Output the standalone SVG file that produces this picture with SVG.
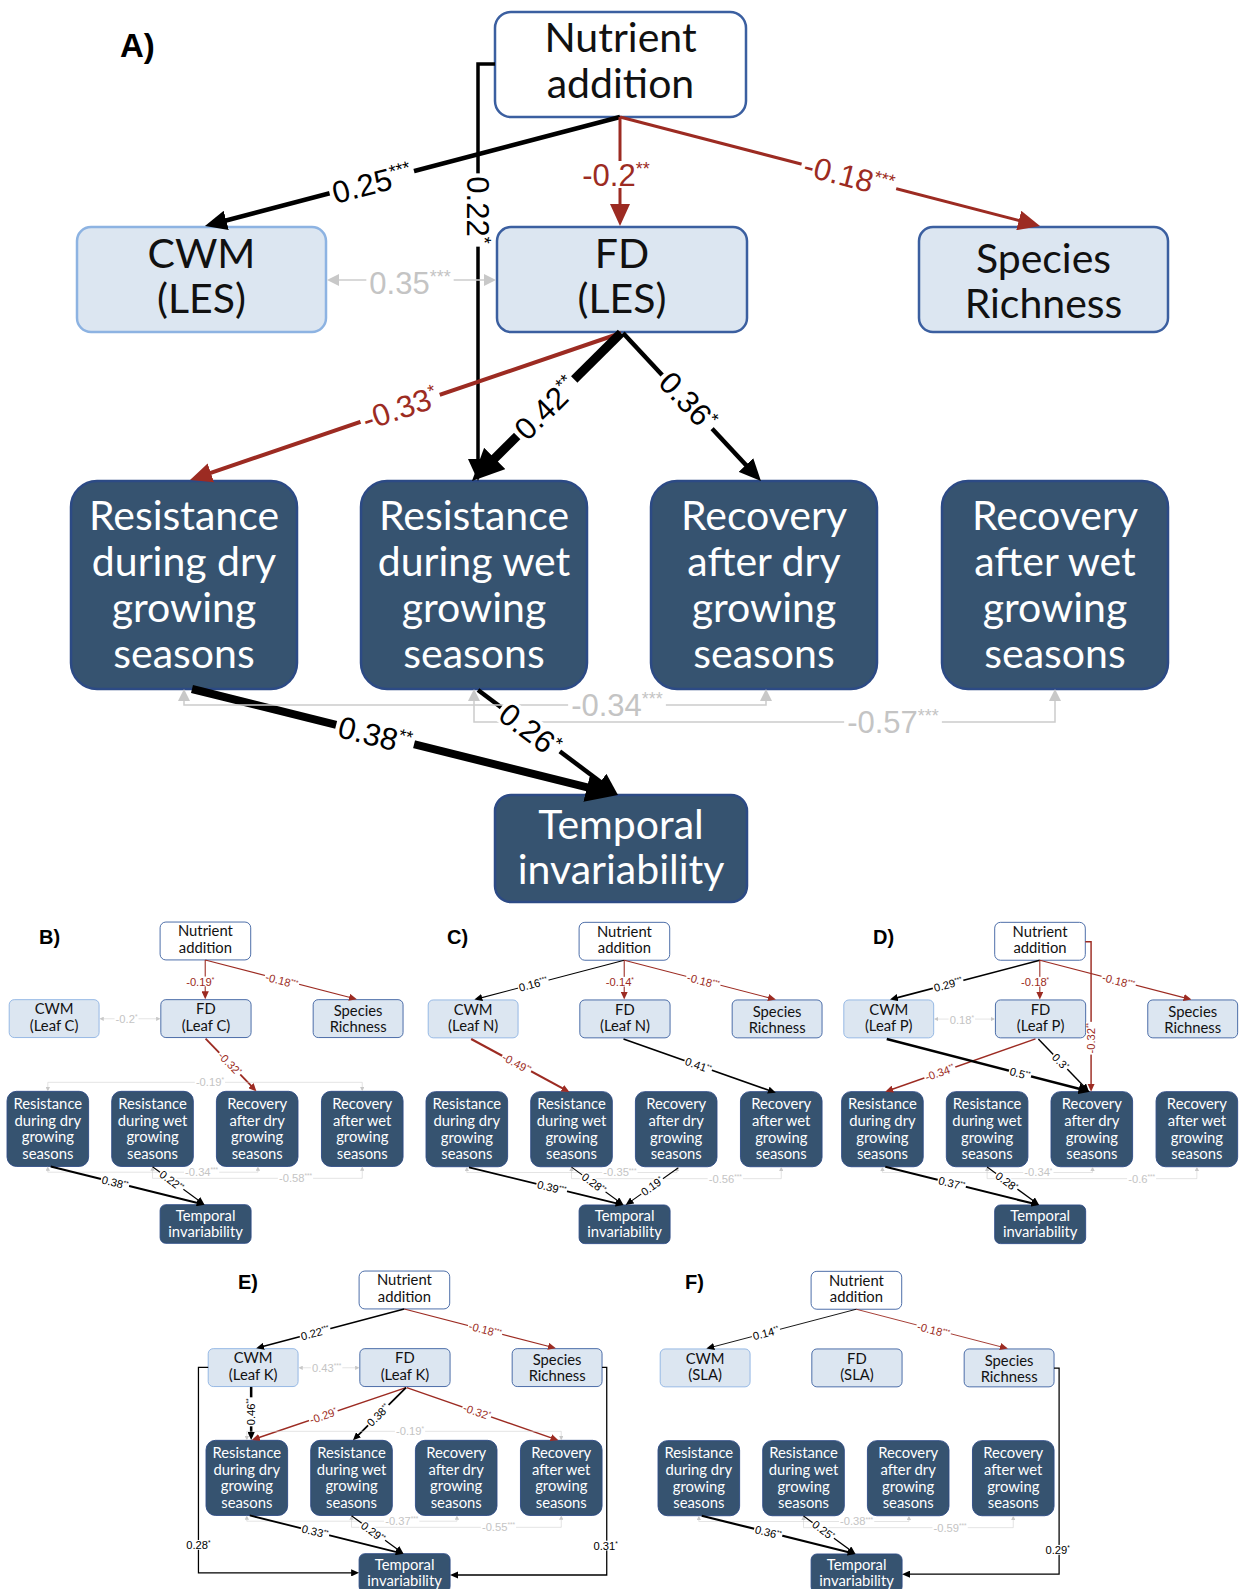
<svg xmlns="http://www.w3.org/2000/svg" width="1239" height="1589" viewBox="0 0 1239 1589">
<style>
.nut{fill:#fff;stroke:#3b5fa0;stroke-width:2.5}
.cwm{fill:#dce6f1;stroke:#8db3e2;stroke-width:2.5}
.fd{fill:#dce6f1;stroke:#3b5fa0;stroke-width:2.5}
.dk{fill:#365370;stroke:#2c4a85;stroke-width:2.5}
.nt{font-family:Lato,"Open Sans",sans-serif;font-size:41px;text-anchor:middle;fill:#111}
.nw{font-family:Lato,"Open Sans",sans-serif;font-size:41px;text-anchor:middle;fill:#fff}
.lbl{font-family:"Liberation Sans",Arial,sans-serif;font-size:31px;text-anchor:middle}
.bg{fill:#fff}
.k{fill:#000}.r{fill:#9c2b22}.g{fill:#c4c4c4}
.st{font-size:18px}
.lk{stroke:#000;fill:none}
.lr{stroke:#9c2b22;fill:none}
.lg{stroke:#cccccc;fill:none;stroke-width:1.5}
.pl{font-family:"Liberation Sans",Arial,sans-serif;font-weight:bold;fill:#000}
</style>
<defs>
<marker id="mK" markerUnits="userSpaceOnUse" markerWidth="22" markerHeight="20" viewBox="0 0 22 20" refX="14" refY="10" orient="auto"><path d="M0,0 L22,10 L0,20 z" fill="#000"/></marker>
<marker id="mKL" markerUnits="userSpaceOnUse" markerWidth="32" markerHeight="30" viewBox="0 0 32 30" refX="20" refY="15" orient="auto"><path d="M0,0 L32,15 L0,30 z" fill="#000"/></marker>
<marker id="mR" markerUnits="userSpaceOnUse" markerWidth="22" markerHeight="20" viewBox="0 0 22 20" refX="14" refY="10" orient="auto"><path d="M0,0 L22,10 L0,20 z" fill="#9c2b22"/></marker>
<marker id="mG" markerUnits="userSpaceOnUse" markerWidth="12" markerHeight="12" viewBox="0 0 12 12" refX="8" refY="6" orient="auto-start-reverse"><path d="M0,0 L12,6 L0,12 z" fill="#c8c8c8"/></marker>
</defs>
<rect width="1239" height="1589" fill="#fff"/>

<text class="pl" x="120" y="57" font-size="33">A)</text>
<text class="pl" x="39" y="944" font-size="20">B)</text>
<text class="pl" x="447" y="944" font-size="20">C)</text>
<text class="pl" x="873" y="944" font-size="20">D)</text>
<text class="pl" x="238" y="1289" font-size="20">E)</text>
<text class="pl" x="685" y="1289" font-size="20">F)</text>

<!-- PANEL A -->
<g id="panelA">
<g id="A-nutrient"><rect class="nut" x="495" y="12" width="251" height="105" rx="16"/><text class="nt"><tspan x="620.5" y="52">Nutrient</tspan><tspan x="620.5" y="98">addition</tspan></text></g>
<g id="A-cwm"><rect class="cwm" x="77" y="227" width="249" height="105" rx="14"/><text class="nt"><tspan x="201.5" y="268">CWM</tspan><tspan x="201.5" y="313">(LES)</tspan></text></g>
<g id="A-fd"><rect class="fd" x="497" y="227" width="250" height="105" rx="14"/><text class="nt"><tspan x="622" y="268">FD</tspan><tspan x="622" y="313">(LES)</tspan></text></g>
<g id="A-species"><rect class="fd" x="919" y="227" width="249" height="105" rx="14"/><text class="nt"><tspan x="1043.5" y="273">Species</tspan><tspan x="1043.5" y="318">Richness</tspan></text></g>
<g id="A-resdry"><rect class="dk" x="71" y="481" width="226" height="208" rx="26"/><text class="nw"><tspan x="184" y="530">Resistance</tspan><tspan x="184" y="576">during dry</tspan><tspan x="184" y="622">growing</tspan><tspan x="184" y="668">seasons</tspan></text></g>
<g id="A-reswet"><rect class="dk" x="361" y="481" width="226" height="208" rx="26"/><text class="nw"><tspan x="474" y="530">Resistance</tspan><tspan x="474" y="576">during wet</tspan><tspan x="474" y="622">growing</tspan><tspan x="474" y="668">seasons</tspan></text></g>
<g id="A-recdry"><rect class="dk" x="651" y="481" width="226" height="208" rx="26"/><text class="nw"><tspan x="764" y="530">Recovery</tspan><tspan x="764" y="576">after dry</tspan><tspan x="764" y="622">growing</tspan><tspan x="764" y="668">seasons</tspan></text></g>
<g id="A-recwet"><rect class="dk" x="942" y="481" width="226" height="208" rx="26"/><text class="nw"><tspan x="1055" y="530">Recovery</tspan><tspan x="1055" y="576">after wet</tspan><tspan x="1055" y="622">growing</tspan><tspan x="1055" y="668">seasons</tspan></text></g>
<g id="A-temporal"><rect class="dk" x="495" y="795" width="252" height="107" rx="16"/><text class="nw"><tspan x="621" y="839">Temporal</tspan><tspan x="621" y="884">invariability</tspan></text></g>
<g id="A-connectors">
<path class="lk" stroke-width="4.5" d="M620,117 L212.7,224" marker-end="url(#mK)"/>
<path class="lr" stroke-width="3" d="M620,117 V218" marker-end="url(#mR)"/>
<path class="lr" stroke-width="3" d="M620,117 L1032.3,224" marker-end="url(#mR)"/>
<path class="lk" stroke-width="3.5" d="M495,64 H478 V473" marker-end="url(#mK)"/>
<path class="lg" d="M331,280 H492" marker-start="url(#mG)" marker-end="url(#mG)"/>
<path class="lr" stroke-width="4" d="M621,333 L197.6,477.4" marker-end="url(#mR)"/>
<path class="lk" stroke-width="9" d="M621,333 L480.5,472.5" marker-end="url(#mKL)"/>
<path class="lk" stroke-width="4.5" d="M623,333 L755.5,475.2" marker-end="url(#mK)"/>
<path class="lk" stroke-width="8" d="M192,689 L606.4,792.1" marker-end="url(#mKL)"/>
<path class="lk" stroke-width="4.5" d="M478,690 L611.6,790.2" marker-end="url(#mK)"/>
<path class="lg" d="M184,693 V705 H766 V693" marker-start="url(#mG)" marker-end="url(#mG)"/>
<path class="lg" d="M474,693 V722 H1055 V693" marker-start="url(#mG)" marker-end="url(#mG)"/>
<g transform="translate(372 183) rotate(-14.7)"><rect class="bg" x="-43.65" y="-14" width="87.3" height="27"/><text class="lbl k" y="11">0.25<tspan class="st" dy="-11">***</tspan></text></g>
<g transform="translate(616 175)"><rect class="bg" x="-36.7" y="-14" width="73.4" height="27"/><text class="lbl r" y="11">-0.2<tspan class="st" dy="-11">**</tspan></text></g>
<g transform="translate(849 176) rotate(14.5)"><rect class="bg" x="-48.85" y="-14" width="97.7" height="27"/><text class="lbl r" y="11">-0.18<tspan class="st" dy="-11">***</tspan></text></g>
<g transform="translate(478 210) rotate(90)"><rect class="bg" x="-36.65" y="-14" width="73.3" height="27"/><text class="lbl k" y="11">0.22<tspan class="st" dy="-11">*</tspan></text></g>
<g transform="translate(410 283)"><rect class="bg" x="-43.65" y="-14" width="87.3" height="27"/><text class="lbl g" y="11">0.35<tspan class="st" dy="-11">***</tspan></text></g>
<g transform="translate(400 408) rotate(-18.8)"><rect class="bg" x="-41.85" y="-14" width="83.7" height="27"/><text class="lbl r" y="11">-0.33<tspan class="st" dy="-11">*</tspan></text></g>
<g transform="translate(546 408) rotate(-44.8)"><rect class="bg" x="-40.15" y="-14" width="80.3" height="27"/><text class="lbl k" y="11">0.42<tspan class="st" dy="-11">**</tspan></text></g>
<g transform="translate(688 401) rotate(47)"><rect class="bg" x="-36.65" y="-14" width="73.3" height="27"/><text class="lbl k" y="11">0.36<tspan class="st" dy="-11">*</tspan></text></g>
<g transform="translate(375 735) rotate(14)"><rect class="bg" x="-40.15" y="-14" width="80.3" height="27"/><text class="lbl k" y="11">0.38<tspan class="st" dy="-11">**</tspan></text></g>
<g transform="translate(530 730) rotate(37)"><rect class="bg" x="-36.65" y="-14" width="73.3" height="27"/><text class="lbl k" y="11">0.26<tspan class="st" dy="-11">*</tspan></text></g>
<g transform="translate(617 705)"><rect class="bg" x="-48.85" y="-14" width="97.7" height="27"/><text class="lbl g" y="11">-0.34<tspan class="st" dy="-11">***</tspan></text></g>
<g transform="translate(893 722)"><rect class="bg" x="-48.85" y="-14" width="97.7" height="27"/><text class="lbl g" y="11">-0.57<tspan class="st" dy="-11">***</tspan></text></g>
</g>
</g>

<!-- PANEL B -->
<g id="panelB" transform="translate(-18.6 917.7) scale(0.361)">
<g id="B-nutrient"><rect class="nut" x="495" y="12" width="251" height="105" rx="16"/><text class="nt"><tspan x="620.5" y="52">Nutrient</tspan><tspan x="620.5" y="98">addition</tspan></text></g>
<g id="B-cwm"><rect class="cwm" x="77" y="227" width="249" height="105" rx="14"/><text class="nt"><tspan x="201.5" y="268">CWM</tspan><tspan x="201.5" y="313">(Leaf C)</tspan></text></g>
<g id="B-fd"><rect class="fd" x="497" y="227" width="250" height="105" rx="14"/><text class="nt"><tspan x="622" y="268">FD</tspan><tspan x="622" y="313">(Leaf C)</tspan></text></g>
<g id="B-species"><rect class="fd" x="919" y="227" width="249" height="105" rx="14"/><text class="nt"><tspan x="1043.5" y="273">Species</tspan><tspan x="1043.5" y="318">Richness</tspan></text></g>
<g id="B-resdry"><rect class="dk" x="71" y="481" width="226" height="208" rx="26"/><text class="nw"><tspan x="184" y="530">Resistance</tspan><tspan x="184" y="576">during dry</tspan><tspan x="184" y="622">growing</tspan><tspan x="184" y="668">seasons</tspan></text></g>
<g id="B-reswet"><rect class="dk" x="361" y="481" width="226" height="208" rx="26"/><text class="nw"><tspan x="474" y="530">Resistance</tspan><tspan x="474" y="576">during wet</tspan><tspan x="474" y="622">growing</tspan><tspan x="474" y="668">seasons</tspan></text></g>
<g id="B-recdry"><rect class="dk" x="651" y="481" width="226" height="208" rx="26"/><text class="nw"><tspan x="764" y="530">Recovery</tspan><tspan x="764" y="576">after dry</tspan><tspan x="764" y="622">growing</tspan><tspan x="764" y="668">seasons</tspan></text></g>
<g id="B-recwet"><rect class="dk" x="942" y="481" width="226" height="208" rx="26"/><text class="nw"><tspan x="1055" y="530">Recovery</tspan><tspan x="1055" y="576">after wet</tspan><tspan x="1055" y="622">growing</tspan><tspan x="1055" y="668">seasons</tspan></text></g>
<g id="B-temporal"><rect class="dk" x="495" y="795" width="252" height="107" rx="16"/><text class="nw"><tspan x="621" y="839">Temporal</tspan><tspan x="621" y="884">invariability</tspan></text></g>
<g id="B-connectors">
<path class="lr" stroke-width="3" d="M620,117 V218" marker-end="url(#mR)"/>
<path class="lr" stroke-width="3" d="M620,117 L1032.3,224" marker-end="url(#mR)"/>
<path class="lg" d="M331,280 H492" marker-start="url(#mG)" marker-end="url(#mG)"/>
<path class="lr" stroke-width="5" d="M621,335 L756.4,475.2" marker-end="url(#mR)"/>
<path class="lg" d="M184,477 V456 H1055 V477" marker-start="url(#mG)" marker-end="url(#mG)"/>
<path class="lg" d="M184,693 V705 H766 V693" marker-start="url(#mG)" marker-end="url(#mG)"/>
<path class="lg" d="M474,693 V722 H1055 V693" marker-start="url(#mG)" marker-end="url(#mG)"/>
<path class="lk" stroke-width="6" d="M192,689 L610.2,793.1" marker-end="url(#mK)"/>
<path class="lk" stroke-width="3" d="M474,690 L611.6,790.2" marker-end="url(#mK)"/>
<g transform="translate(606 177)"><rect class="bg" x="-41.85" y="-14" width="83.7" height="27"/><text class="lbl r" y="11">-0.19<tspan class="st" dy="-11">*</tspan></text></g>
<g transform="translate(832 175) rotate(14.5)"><rect class="bg" x="-48.85" y="-14" width="97.7" height="27"/><text class="lbl r" y="11">-0.18<tspan class="st" dy="-11">***</tspan></text></g>
<g transform="translate(402 280)"><rect class="bg" x="-33.2" y="-14" width="66.4" height="27"/><text class="lbl g" y="11">-0.2<tspan class="st" dy="-11">*</tspan></text></g>
<g transform="translate(688 404) rotate(46)"><rect class="bg" x="-41.85" y="-14" width="83.7" height="27"/><text class="lbl r" y="11">-0.32<tspan class="st" dy="-11">*</tspan></text></g>
<g transform="translate(633 456)"><rect class="bg" x="-41.85" y="-14" width="83.7" height="27"/><text class="lbl g" y="11">-0.19<tspan class="st" dy="-11">*</tspan></text></g>
<g transform="translate(610 705)"><rect class="bg" x="-48.85" y="-14" width="97.7" height="27"/><text class="lbl g" y="11">-0.34<tspan class="st" dy="-11">***</tspan></text></g>
<g transform="translate(870 722)"><rect class="bg" x="-48.85" y="-14" width="97.7" height="27"/><text class="lbl g" y="11">-0.58<tspan class="st" dy="-11">***</tspan></text></g>
<g transform="translate(370 734) rotate(14)"><rect class="bg" x="-40.15" y="-14" width="80.3" height="27"/><text class="lbl k" y="11">0.38<tspan class="st" dy="-11">**</tspan></text></g>
<g transform="translate(527 729) rotate(37)"><rect class="bg" x="-40.15" y="-14" width="80.3" height="27"/><text class="lbl k" y="11">0.22<tspan class="st" dy="-11">**</tspan></text></g>
</g>
</g>

<!-- PANEL C -->
<g id="panelC" transform="translate(400.4 918) scale(0.361)">
<g id="C-nutrient"><rect class="nut" x="495" y="12" width="251" height="105" rx="16"/><text class="nt"><tspan x="620.5" y="52">Nutrient</tspan><tspan x="620.5" y="98">addition</tspan></text></g>
<g id="C-cwm"><rect class="cwm" x="77" y="227" width="249" height="105" rx="14"/><text class="nt"><tspan x="201.5" y="268">CWM</tspan><tspan x="201.5" y="313">(Leaf N)</tspan></text></g>
<g id="C-fd"><rect class="fd" x="497" y="227" width="250" height="105" rx="14"/><text class="nt"><tspan x="622" y="268">FD</tspan><tspan x="622" y="313">(Leaf N)</tspan></text></g>
<g id="C-species"><rect class="fd" x="919" y="227" width="249" height="105" rx="14"/><text class="nt"><tspan x="1043.5" y="273">Species</tspan><tspan x="1043.5" y="318">Richness</tspan></text></g>
<g id="C-resdry"><rect class="dk" x="71" y="481" width="226" height="208" rx="26"/><text class="nw"><tspan x="184" y="530">Resistance</tspan><tspan x="184" y="576">during dry</tspan><tspan x="184" y="622">growing</tspan><tspan x="184" y="668">seasons</tspan></text></g>
<g id="C-reswet"><rect class="dk" x="361" y="481" width="226" height="208" rx="26"/><text class="nw"><tspan x="474" y="530">Resistance</tspan><tspan x="474" y="576">during wet</tspan><tspan x="474" y="622">growing</tspan><tspan x="474" y="668">seasons</tspan></text></g>
<g id="C-recdry"><rect class="dk" x="651" y="481" width="226" height="208" rx="26"/><text class="nw"><tspan x="764" y="530">Recovery</tspan><tspan x="764" y="576">after dry</tspan><tspan x="764" y="622">growing</tspan><tspan x="764" y="668">seasons</tspan></text></g>
<g id="C-recwet"><rect class="dk" x="942" y="481" width="226" height="208" rx="26"/><text class="nw"><tspan x="1055" y="530">Recovery</tspan><tspan x="1055" y="576">after wet</tspan><tspan x="1055" y="622">growing</tspan><tspan x="1055" y="668">seasons</tspan></text></g>
<g id="C-temporal"><rect class="dk" x="495" y="795" width="252" height="107" rx="16"/><text class="nw"><tspan x="621" y="839">Temporal</tspan><tspan x="621" y="884">invariability</tspan></text></g>
<g id="C-connectors">
<path class="lk" stroke-width="3" d="M620,117 L212.7,224" marker-end="url(#mK)"/>
<path class="lr" stroke-width="3" d="M620,117 V218" marker-end="url(#mR)"/>
<path class="lr" stroke-width="3" d="M620,117 L1032.3,224" marker-end="url(#mR)"/>
<path class="lr" stroke-width="6" d="M196,335 L461,478.2" marker-end="url(#mR)"/>
<path class="lk" stroke-width="4.5" d="M618,335 L1032.5,481.3" marker-end="url(#mK)"/>
<path class="lg" d="M184,693 V705 H766 V693" marker-start="url(#mG)" marker-end="url(#mG)"/>
<path class="lg" d="M474,693 V722 H1055 V693" marker-start="url(#mG)" marker-end="url(#mG)"/>
<path class="lk" stroke-width="5" d="M190,691 L610.2,793.1" marker-end="url(#mK)"/>
<path class="lk" stroke-width="3" d="M474,690 L611.6,790.2" marker-end="url(#mK)"/>
<path class="lk" stroke-width="3" d="M770,692 L630.5,790.4" marker-end="url(#mK)"/>
<g transform="translate(368 183) rotate(-14.7)"><rect class="bg" x="-43.65" y="-14" width="87.3" height="27"/><text class="lbl k" y="11">0.16<tspan class="st" dy="-11">***</tspan></text></g>
<g transform="translate(608 177)"><rect class="bg" x="-41.85" y="-14" width="83.7" height="27"/><text class="lbl r" y="11">-0.14<tspan class="st" dy="-11">*</tspan></text></g>
<g transform="translate(839 175) rotate(14.5)"><rect class="bg" x="-48.85" y="-14" width="97.7" height="27"/><text class="lbl r" y="11">-0.18<tspan class="st" dy="-11">***</tspan></text></g>
<g transform="translate(322 403) rotate(28.4)"><rect class="bg" x="-45.35" y="-14" width="90.7" height="27"/><text class="lbl r" y="11">-0.49<tspan class="st" dy="-11">**</tspan></text></g>
<g transform="translate(825 408) rotate(19.4)"><rect class="bg" x="-40.15" y="-14" width="80.3" height="27"/><text class="lbl k" y="11">0.41<tspan class="st" dy="-11">**</tspan></text></g>
<g transform="translate(608 705)"><rect class="bg" x="-48.85" y="-14" width="97.7" height="27"/><text class="lbl g" y="11">-0.35<tspan class="st" dy="-11">***</tspan></text></g>
<g transform="translate(900 722)"><rect class="bg" x="-48.85" y="-14" width="97.7" height="27"/><text class="lbl g" y="11">-0.56<tspan class="st" dy="-11">***</tspan></text></g>
<g transform="translate(419 747) rotate(14)"><rect class="bg" x="-43.65" y="-14" width="87.3" height="27"/><text class="lbl k" y="11">0.39<tspan class="st" dy="-11">***</tspan></text></g>
<g transform="translate(536 735) rotate(37)"><rect class="bg" x="-40.15" y="-14" width="80.3" height="27"/><text class="lbl k" y="11">0.28<tspan class="st" dy="-11">**</tspan></text></g>
<g transform="translate(697 743) rotate(-35.2)"><rect class="bg" x="-36.65" y="-14" width="73.3" height="27"/><text class="lbl k" y="11">0.19<tspan class="st" dy="-11">*</tspan></text></g>
</g>
</g>

<!-- PANEL D -->
<g id="panelD" transform="translate(816 918) scale(0.361)">
<g id="D-nutrient"><rect class="nut" x="495" y="12" width="251" height="105" rx="16"/><text class="nt"><tspan x="620.5" y="52">Nutrient</tspan><tspan x="620.5" y="98">addition</tspan></text></g>
<g id="D-cwm"><rect class="cwm" x="77" y="227" width="249" height="105" rx="14"/><text class="nt"><tspan x="201.5" y="268">CWM</tspan><tspan x="201.5" y="313">(Leaf P)</tspan></text></g>
<g id="D-fd"><rect class="fd" x="497" y="227" width="250" height="105" rx="14"/><text class="nt"><tspan x="622" y="268">FD</tspan><tspan x="622" y="313">(Leaf P)</tspan></text></g>
<g id="D-species"><rect class="fd" x="919" y="227" width="249" height="105" rx="14"/><text class="nt"><tspan x="1043.5" y="273">Species</tspan><tspan x="1043.5" y="318">Richness</tspan></text></g>
<g id="D-resdry"><rect class="dk" x="71" y="481" width="226" height="208" rx="26"/><text class="nw"><tspan x="184" y="530">Resistance</tspan><tspan x="184" y="576">during dry</tspan><tspan x="184" y="622">growing</tspan><tspan x="184" y="668">seasons</tspan></text></g>
<g id="D-reswet"><rect class="dk" x="361" y="481" width="226" height="208" rx="26"/><text class="nw"><tspan x="474" y="530">Resistance</tspan><tspan x="474" y="576">during wet</tspan><tspan x="474" y="622">growing</tspan><tspan x="474" y="668">seasons</tspan></text></g>
<g id="D-recdry"><rect class="dk" x="651" y="481" width="226" height="208" rx="26"/><text class="nw"><tspan x="764" y="530">Recovery</tspan><tspan x="764" y="576">after dry</tspan><tspan x="764" y="622">growing</tspan><tspan x="764" y="668">seasons</tspan></text></g>
<g id="D-recwet"><rect class="dk" x="942" y="481" width="226" height="208" rx="26"/><text class="nw"><tspan x="1055" y="530">Recovery</tspan><tspan x="1055" y="576">after wet</tspan><tspan x="1055" y="622">growing</tspan><tspan x="1055" y="668">seasons</tspan></text></g>
<g id="D-temporal"><rect class="dk" x="495" y="795" width="252" height="107" rx="16"/><text class="nw"><tspan x="621" y="839">Temporal</tspan><tspan x="621" y="884">invariability</tspan></text></g>
<g id="D-connectors">
<path class="lk" stroke-width="4.5" d="M620,117 L212.7,224" marker-end="url(#mK)"/>
<path class="lr" stroke-width="3" d="M620,117 V218" marker-end="url(#mR)"/>
<path class="lr" stroke-width="3" d="M620,117 L1032.3,224" marker-end="url(#mR)"/>
<path class="lr" stroke-width="4" d="M746,66 H762 V473" marker-end="url(#mR)"/>
<path class="lg" d="M331,280 H492" marker-start="url(#mG)" marker-end="url(#mG)"/>
<path class="lr" stroke-width="4" d="M608,335 L199.5,478.4" marker-end="url(#mR)"/>
<path class="lk" stroke-width="7" d="M196,335 L747.4,478" marker-end="url(#mKL)"/>
<path class="lk" stroke-width="4" d="M616,335 L750.5,475.2" marker-end="url(#mK)"/>
<path class="lg" d="M184,693 V705 H766 V693" marker-start="url(#mG)" marker-end="url(#mG)"/>
<path class="lg" d="M474,693 V722 H1055 V693" marker-start="url(#mG)" marker-end="url(#mG)"/>
<path class="lk" stroke-width="6" d="M192,689 L610.2,793.1" marker-end="url(#mK)"/>
<path class="lk" stroke-width="3.5" d="M474,690 L611.6,790.2" marker-end="url(#mK)"/>
<g transform="translate(366 184) rotate(-14.7)"><rect class="bg" x="-43.65" y="-14" width="87.3" height="27"/><text class="lbl k" y="11">0.29<tspan class="st" dy="-11">***</tspan></text></g>
<g transform="translate(607 177)"><rect class="bg" x="-41.85" y="-14" width="83.7" height="27"/><text class="lbl r" y="11">-0.18<tspan class="st" dy="-11">*</tspan></text></g>
<g transform="translate(838 175) rotate(14.5)"><rect class="bg" x="-48.85" y="-14" width="97.7" height="27"/><text class="lbl r" y="11">-0.18<tspan class="st" dy="-11">***</tspan></text></g>
<g transform="translate(762 333) rotate(-90)"><rect class="bg" x="-45.35" y="-14" width="90.7" height="27"/><text class="lbl r" y="11">-0.32<tspan class="st" dy="-11">**</tspan></text></g>
<g transform="translate(404 282)"><rect class="bg" x="-36.65" y="-14" width="73.3" height="27"/><text class="lbl g" y="11">0.18<tspan class="st" dy="-11">*</tspan></text></g>
<g transform="translate(343 428) rotate(-19.3)"><rect class="bg" x="-45.35" y="-14" width="90.7" height="27"/><text class="lbl r" y="11">-0.34<tspan class="st" dy="-11">**</tspan></text></g>
<g transform="translate(565 431) rotate(14.5)"><rect class="bg" x="-31.55" y="-14" width="63.1" height="27"/><text class="lbl k" y="11">0.5<tspan class="st" dy="-11">**</tspan></text></g>
<g transform="translate(677 398) rotate(46.2)"><rect class="bg" x="-28.05" y="-14" width="56.1" height="27"/><text class="lbl k" y="11">0.3<tspan class="st" dy="-11">*</tspan></text></g>
<g transform="translate(616 705)"><rect class="bg" x="-41.85" y="-14" width="83.7" height="27"/><text class="lbl g" y="11">-0.34<tspan class="st" dy="-11">*</tspan></text></g>
<g transform="translate(902 722)"><rect class="bg" x="-40.2" y="-14" width="80.4" height="27"/><text class="lbl g" y="11">-0.6<tspan class="st" dy="-11">***</tspan></text></g>
<g transform="translate(376 735) rotate(14)"><rect class="bg" x="-40.15" y="-14" width="80.3" height="27"/><text class="lbl k" y="11">0.37<tspan class="st" dy="-11">**</tspan></text></g>
<g transform="translate(528 730) rotate(37)"><rect class="bg" x="-36.65" y="-14" width="73.3" height="27"/><text class="lbl k" y="11">0.28<tspan class="st" dy="-11">*</tspan></text></g>
</g>
</g>

<!-- PANEL E -->
<g id="panelE" transform="translate(180.4 1266.7) scale(0.361)">
<g id="E-nutrient"><rect class="nut" x="495" y="12" width="251" height="105" rx="16"/><text class="nt"><tspan x="620.5" y="52">Nutrient</tspan><tspan x="620.5" y="98">addition</tspan></text></g>
<g id="E-cwm"><rect class="cwm" x="77" y="227" width="249" height="105" rx="14"/><text class="nt"><tspan x="201.5" y="268">CWM</tspan><tspan x="201.5" y="313">(Leaf K)</tspan></text></g>
<g id="E-fd"><rect class="fd" x="497" y="227" width="250" height="105" rx="14"/><text class="nt"><tspan x="622" y="268">FD</tspan><tspan x="622" y="313">(Leaf K)</tspan></text></g>
<g id="E-species"><rect class="fd" x="919" y="227" width="249" height="105" rx="14"/><text class="nt"><tspan x="1043.5" y="273">Species</tspan><tspan x="1043.5" y="318">Richness</tspan></text></g>
<g id="E-resdry"><rect class="dk" x="71" y="481" width="226" height="208" rx="26"/><text class="nw"><tspan x="184" y="530">Resistance</tspan><tspan x="184" y="576">during dry</tspan><tspan x="184" y="622">growing</tspan><tspan x="184" y="668">seasons</tspan></text></g>
<g id="E-reswet"><rect class="dk" x="361" y="481" width="226" height="208" rx="26"/><text class="nw"><tspan x="474" y="530">Resistance</tspan><tspan x="474" y="576">during wet</tspan><tspan x="474" y="622">growing</tspan><tspan x="474" y="668">seasons</tspan></text></g>
<g id="E-recdry"><rect class="dk" x="651" y="481" width="226" height="208" rx="26"/><text class="nw"><tspan x="764" y="530">Recovery</tspan><tspan x="764" y="576">after dry</tspan><tspan x="764" y="622">growing</tspan><tspan x="764" y="668">seasons</tspan></text></g>
<g id="E-recwet"><rect class="dk" x="942" y="481" width="226" height="208" rx="26"/><text class="nw"><tspan x="1055" y="530">Recovery</tspan><tspan x="1055" y="576">after wet</tspan><tspan x="1055" y="622">growing</tspan><tspan x="1055" y="668">seasons</tspan></text></g>
<g id="E-temporal"><rect class="dk" x="495" y="795" width="252" height="107" rx="16"/><text class="nw"><tspan x="621" y="839">Temporal</tspan><tspan x="621" y="884">invariability</tspan></text></g>
<g id="E-connectors">
<path class="lk" stroke-width="4" d="M620,117 L217.7,224" marker-end="url(#mK)"/>
<path class="lr" stroke-width="3" d="M620,117 L1032.3,224" marker-end="url(#mR)"/>
<path class="lg" d="M331,280 H492" marker-start="url(#mG)" marker-end="url(#mG)"/>
<path class="lk" stroke-width="7" d="M196,333 V472" marker-end="url(#mK)"/>
<path class="lr" stroke-width="4" d="M625,335 L205.6,477.4" marker-end="url(#mR)"/>
<path class="lk" stroke-width="5" d="M625,335 L483.7,475.4" marker-end="url(#mK)"/>
<path class="lr" stroke-width="4" d="M627,335 L1039.4,478.4" marker-end="url(#mR)"/>
<path class="lg" d="M184,477 V456 H1055 V477" marker-start="url(#mG)" marker-end="url(#mG)"/>
<path class="lg" d="M184,693 V705 H766 V693" marker-start="url(#mG)" marker-end="url(#mG)"/>
<path class="lg" d="M474,693 V722 H1055 V693" marker-start="url(#mG)" marker-end="url(#mG)"/>
<path class="lk" stroke-width="5" d="M192,689 L610.2,793.1" marker-end="url(#mK)"/>
<path class="lk" stroke-width="3.5" d="M474,690 L611.6,790.2" marker-end="url(#mK)"/>
<path class="lk" stroke-width="3.5" d="M77,279 H50 V848 H487" marker-end="url(#mK)"/>
<path class="lk" stroke-width="3.5" d="M1168,279 H1181 V854 H755" marker-end="url(#mK)"/>
<g transform="translate(373 183) rotate(-14.9)"><rect class="bg" x="-43.65" y="-14" width="87.3" height="27"/><text class="lbl k" y="11">0.22<tspan class="st" dy="-11">***</tspan></text></g>
<g transform="translate(844 175) rotate(14.5)"><rect class="bg" x="-48.85" y="-14" width="97.7" height="27"/><text class="lbl r" y="11">-0.18<tspan class="st" dy="-11">***</tspan></text></g>
<g transform="translate(405 280)"><rect class="bg" x="-43.65" y="-14" width="87.3" height="27"/><text class="lbl g" y="11">0.43<tspan class="st" dy="-11">***</tspan></text></g>
<g transform="translate(196 402) rotate(-90)"><rect class="bg" x="-40.15" y="-14" width="80.3" height="27"/><text class="lbl k" y="11">0.46<tspan class="st" dy="-11">**</tspan></text></g>
<g transform="translate(396 413) rotate(-18.8)"><rect class="bg" x="-41.85" y="-14" width="83.7" height="27"/><text class="lbl r" y="11">-0.29<tspan class="st" dy="-11">*</tspan></text></g>
<g transform="translate(548 411) rotate(-44.8)"><rect class="bg" x="-40.15" y="-14" width="80.3" height="27"/><text class="lbl k" y="11">0.38<tspan class="st" dy="-11">**</tspan></text></g>
<g transform="translate(821 402) rotate(19.2)"><rect class="bg" x="-41.85" y="-14" width="83.7" height="27"/><text class="lbl r" y="11">-0.32<tspan class="st" dy="-11">*</tspan></text></g>
<g transform="translate(636 456)"><rect class="bg" x="-41.85" y="-14" width="83.7" height="27"/><text class="lbl g" y="11">-0.19<tspan class="st" dy="-11">*</tspan></text></g>
<g transform="translate(613 705)"><rect class="bg" x="-48.85" y="-14" width="97.7" height="27"/><text class="lbl g" y="11">-0.37<tspan class="st" dy="-11">***</tspan></text></g>
<g transform="translate(881 722)"><rect class="bg" x="-48.85" y="-14" width="97.7" height="27"/><text class="lbl g" y="11">-0.55<tspan class="st" dy="-11">***</tspan></text></g>
<g transform="translate(373 734) rotate(14)"><rect class="bg" x="-40.15" y="-14" width="80.3" height="27"/><text class="lbl k" y="11">0.33<tspan class="st" dy="-11">**</tspan></text></g>
<g transform="translate(534 735) rotate(37)"><rect class="bg" x="-40.15" y="-14" width="80.3" height="27"/><text class="lbl k" y="11">0.29<tspan class="st" dy="-11">**</tspan></text></g>
<g transform="translate(50 771)"><rect class="bg" x="-36.65" y="-14" width="73.3" height="27"/><text class="lbl k" y="11">0.28<tspan class="st" dy="-11">*</tspan></text></g>
<g transform="translate(1178 773)"><rect class="bg" x="-36.65" y="-14" width="73.3" height="27"/><text class="lbl k" y="11">0.31<tspan class="st" dy="-11">*</tspan></text></g>
</g>
</g>

<!-- PANEL F -->
<g id="panelF" transform="translate(632.4 1267) scale(0.361)">
<g id="F-nutrient"><rect class="nut" x="495" y="12" width="251" height="105" rx="16"/><text class="nt"><tspan x="620.5" y="52">Nutrient</tspan><tspan x="620.5" y="98">addition</tspan></text></g>
<g id="F-cwm"><rect class="cwm" x="77" y="227" width="249" height="105" rx="14"/><text class="nt"><tspan x="201.5" y="268">CWM</tspan><tspan x="201.5" y="313">(SLA)</tspan></text></g>
<g id="F-fd"><rect class="fd" x="497" y="227" width="250" height="105" rx="14"/><text class="nt"><tspan x="622" y="268">FD</tspan><tspan x="622" y="313">(SLA)</tspan></text></g>
<g id="F-species"><rect class="fd" x="919" y="227" width="249" height="105" rx="14"/><text class="nt"><tspan x="1043.5" y="273">Species</tspan><tspan x="1043.5" y="318">Richness</tspan></text></g>
<g id="F-resdry"><rect class="dk" x="71" y="481" width="226" height="208" rx="26"/><text class="nw"><tspan x="184" y="530">Resistance</tspan><tspan x="184" y="576">during dry</tspan><tspan x="184" y="622">growing</tspan><tspan x="184" y="668">seasons</tspan></text></g>
<g id="F-reswet"><rect class="dk" x="361" y="481" width="226" height="208" rx="26"/><text class="nw"><tspan x="474" y="530">Resistance</tspan><tspan x="474" y="576">during wet</tspan><tspan x="474" y="622">growing</tspan><tspan x="474" y="668">seasons</tspan></text></g>
<g id="F-recdry"><rect class="dk" x="651" y="481" width="226" height="208" rx="26"/><text class="nw"><tspan x="764" y="530">Recovery</tspan><tspan x="764" y="576">after dry</tspan><tspan x="764" y="622">growing</tspan><tspan x="764" y="668">seasons</tspan></text></g>
<g id="F-recwet"><rect class="dk" x="942" y="481" width="226" height="208" rx="26"/><text class="nw"><tspan x="1055" y="530">Recovery</tspan><tspan x="1055" y="576">after wet</tspan><tspan x="1055" y="622">growing</tspan><tspan x="1055" y="668">seasons</tspan></text></g>
<g id="F-temporal"><rect class="dk" x="495" y="795" width="252" height="107" rx="16"/><text class="nw"><tspan x="621" y="839">Temporal</tspan><tspan x="621" y="884">invariability</tspan></text></g>
<g id="F-connectors">
<path class="lk" stroke-width="2.5" d="M620,117 L212.7,224" marker-end="url(#mK)"/>
<path class="lr" stroke-width="2.5" d="M620,117 L1032.3,224" marker-end="url(#mR)"/>
<path class="lk" stroke-width="3.5" d="M1168,280 H1182 V851 H755" marker-end="url(#mK)"/>
<path class="lg" d="M184,693 V705 H766 V693" marker-start="url(#mG)" marker-end="url(#mG)"/>
<path class="lg" d="M474,693 V722 H1055 V693" marker-start="url(#mG)" marker-end="url(#mG)"/>
<path class="lk" stroke-width="6" d="M192,689 L610.2,793.1" marker-end="url(#mK)"/>
<path class="lk" stroke-width="3.5" d="M474,690 L611.6,790.2" marker-end="url(#mK)"/>
<g transform="translate(370 183) rotate(-14.7)"><rect class="bg" x="-40.15" y="-14" width="80.3" height="27"/><text class="lbl k" y="11">0.14<tspan class="st" dy="-11">**</tspan></text></g>
<g transform="translate(834 175) rotate(14.5)"><rect class="bg" x="-48.85" y="-14" width="97.7" height="27"/><text class="lbl r" y="11">-0.18<tspan class="st" dy="-11">***</tspan></text></g>
<g transform="translate(1178 784)"><rect class="bg" x="-36.65" y="-14" width="73.3" height="27"/><text class="lbl k" y="11">0.29<tspan class="st" dy="-11">*</tspan></text></g>
<g transform="translate(621 705)"><rect class="bg" x="-48.85" y="-14" width="97.7" height="27"/><text class="lbl g" y="11">-0.38<tspan class="st" dy="-11">***</tspan></text></g>
<g transform="translate(880 722)"><rect class="bg" x="-48.85" y="-14" width="97.7" height="27"/><text class="lbl g" y="11">-0.59<tspan class="st" dy="-11">***</tspan></text></g>
<g transform="translate(376 735) rotate(14)"><rect class="bg" x="-40.15" y="-14" width="80.3" height="27"/><text class="lbl k" y="11">0.36<tspan class="st" dy="-11">**</tspan></text></g>
<g transform="translate(529 729) rotate(37)"><rect class="bg" x="-36.65" y="-14" width="73.3" height="27"/><text class="lbl k" y="11">0.25<tspan class="st" dy="-11">*</tspan></text></g>
</g>
</g>
</svg>
